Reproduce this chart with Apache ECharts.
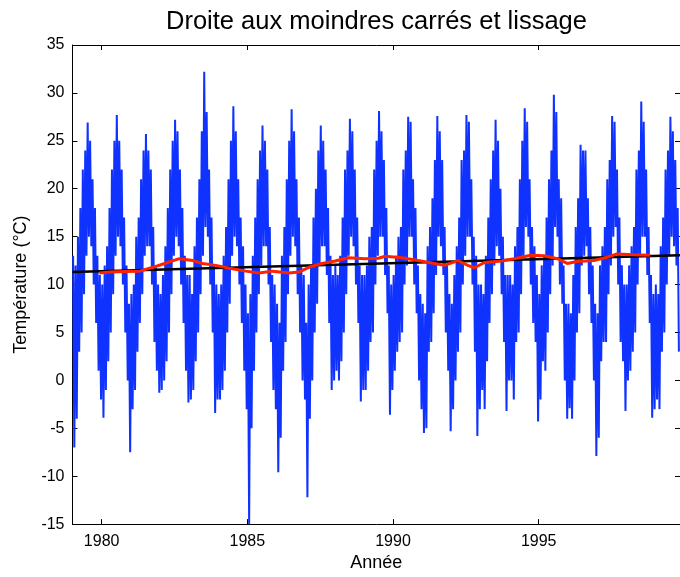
<!DOCTYPE html>
<html>
<head>
<meta charset="utf-8">
<script src="https://cdn.jsdelivr.net/npm/echarts@6/dist/echarts.min.js"></script>
<style>
  html, body { margin: 0; padding: 0; background: #ffffff; }
  #chart { width: 680px; height: 577px; }
</style>
</head>
<body>
<div id="chart"></div>
<script>
// Daily temperature record, summarised as the monthly upper and lower
// excursions (°C), one row per year starting January 1979.
const firstYear = 1979;
const monthlyHigh = [
  [13, 12, 15, 18, 22, 24, 26.9, 25, 21, 18, 13, 11],   // 1979
  [10, 12, 14, 18, 22, 25, 27.7, 25, 22, 17, 12, 8],    // 1980
  [9, 10, 15, 17, 21, 24, 25.7, 24, 22, 16, 12, 10],    // 1981
  [9, 11, 14, 18, 22, 25, 27.2, 26, 22, 18, 13, 11],    // 1982
  [11, 9, 14, 17, 21, 26, 32.2, 28, 22, 17, 12, 10],    // 1983
  [9, 10, 13, 16, 21, 25, 28.6, 26, 21, 17, 14, 10],    // 1984
  [7, 9, 13, 17, 21, 24, 26.6, 25, 22, 16, 11, 10],     // 1985
  [8, 6, 13, 16, 21, 25, 28.3, 26, 21, 17, 12, 11],     // 1986
  [6, 10, 12, 17, 20, 24, 26.6, 25, 22, 18, 13, 11],    // 1987
  [12, 11, 13, 17, 22, 24, 27.3, 26, 22, 17, 12, 11],   // 1988
  [11, 12, 15, 16, 22, 25, 28.1, 26, 23, 18, 12, 10],   // 1989
  [11, 13, 15, 16, 22, 24, 27.5, 27, 21, 18, 12, 9],    // 1990
  [8, 7, 14, 16, 19, 23, 27.6, 26, 23, 16, 12, 9],      // 1991
  [8, 11, 14, 17, 23, 24, 27.7, 27, 21, 15, 13, 10],    // 1992
  [10, 9, 13, 17, 21, 24, 27.2, 25, 20, 15, 11, 11],    // 1993
  [11, 10, 14, 16, 21, 25, 28.4, 27, 21, 16, 14, 11],   // 1994
  [9, 12, 13, 17, 21, 24, 29.8, 28, 21, 19, 12, 8],     // 1995
  [8, 7, 11, 16, 19, 24.6, 24, 24, 19, 16, 12, 8],      // 1996
  [7, 12, 14, 16, 21, 23, 27.6, 27, 22, 17, 12, 10],    // 1997
  [10, 12, 14, 16, 22, 24, 29.1, 27, 22, 16, 11, 9],    // 1998
  [10, 9, 14, 17, 22, 24, 27.5, 26, 23, 18]             // 1999
];
const monthlyLow = [
  [-7, -4, 3, 5, 9, 13, 15, 14, 10, 6, 1, -2],          // 1979
  [-3.9, -1, 2, 5, 9, 13, 15, 14, 10, 5, 0, -7.5],      // 1980
  [-3, -1, 3, 6, 9, 13, 14, 14, 10, 4, 1, -1.3],        // 1981
  [-1, 0, 2, 5, 9, 13, 15, 14, 10, 6, 1, -2.3],         // 1982
  [-2, -1, 2, 5, 9, 13, 16, 15, 10, 5, -3.4, -2],       // 1983
  [-2, -1, 1, 5, 8, 13, 15, 14, 10, 6, 1, -3],          // 1984
  [-15, -5, 1, 5, 9, 12, 14, 14, 10, 4, -1, -3],        // 1985
  [-9.6, -6, 1, 4, 9, 13, 15, 14, 9, 5, 0, -2],         // 1986
  [-12.2, -4, 0, 5, 8, 12, 14, 14, 11, 6, -1, 0],       // 1987
  [1, 0, 2, 5, 9, 13, 15, 14, 10, 6, -2.2, -1],         // 1988
  [-1, 1, 4, 5, 10, 13, 15, 15, 11, 7, -3.6, -1],       // 1989
  [1, 3, 4, 5, 10, 12, 15, 15, 10, 7, 0, -3],           // 1990
  [-5.5, -5, 3, 4, 7, 11, 15, 14, 11, 5, 1, -5.3],      // 1991
  [-3, 0, 3, 5, 10, 13, 15, 15, 10, 3, -5.8, -3],       // 1992
  [-1, -3, 2, 6, 9, 12, 14, 13, 9, 4, -3.2, 0],         // 1993
  [0, -2, 4, 5, 9, 13, 16, 15, 10, 6, 4, -4.3],         // 1994
  [-2, 2, 1, 5, 9, 12, 16, 15, 10, 8, 0, -4],           // 1995
  [-2.9, -4, 0, 5, 7, 12, 13, 14, 9, 6, 0, -7.9],       // 1996
  [-6, 2, 4, 4, 9, 12, 15, 16, 10, 4, 2, -3.2],         // 1997
  [0, 1, 3, 5, 10, 13, 15, 15, 11, 6, -3.9, -3],        // 1998
  [-2, -3, 3, 5, 10, 13, 15, 14, 12, 3]                 // 1999
];

// Least-squares line, evaluated at both ends of the record
const trendYears = [1979, 1999.85];
const trendValues = [11.3, 13.05];

// Smoothed curve (moving average)
const smoothYears = [
  1979.92, 1980.3, 1980.8, 1981.31, 1981.76, 1982.16, 1982.67, 1983.13, 1983.47,
  1983.92, 1984.38, 1984.95, 1985.4, 1985.86, 1986.43, 1986.77, 1987.11, 1987.56,
  1988.02, 1988.47, 1989.04, 1989.5, 1989.73, 1990.3, 1990.86, 1991.43, 1991.77,
  1992.23, 1992.57, 1992.8, 1993.14, 1993.71, 1994.16, 1994.73, 1995.19, 1995.64,
  1995.98, 1996.32, 1996.89, 1997.35, 1997.69, 1998.26, 1998.83
];
const smoothValues = [
  11.2, 11.3, 11.35, 11.4, 11.8, 12.2, 12.7, 12.5, 12.2,
  12.0, 11.7, 11.4, 11.2, 11.4, 11.2, 11.3, 11.8, 12.2,
  12.45, 12.8, 12.7, 12.75, 12.95, 12.8, 12.5, 12.2, 12.0,
  12.5, 12.0, 11.75, 12.3, 12.45, 12.7, 13.05, 13.0, 12.7,
  12.2, 12.4, 12.5, 12.85, 13.2, 13.1, 13.05
];

const yearTicks = [1980, 1985, 1990, 1995];
const tempTicks = { min: -15, max: 35, step: 5 };
const xRange = { min: 1979, max: 1999.85 };

// Interleave each month's upper and lower excursion along the time axis
const tempSeries = [];
monthlyHigh.forEach((row, yi) => {
  row.forEach((hi, m) => {
    const lo = monthlyLow[yi][m];
    tempSeries.push([firstYear + yi + (m + 0.25) / 12, hi]);
    tempSeries.push([firstYear + yi + (m + 0.75) / 12, lo]);
  });
});
const trendSeries = trendYears.map((y, i) => [y, trendValues[i]]);
const smoothSeries = smoothYears.map((y, i) => [y, smoothValues[i]]);

const FONT = "'Liberation Sans', Arial, Helvetica, sans-serif";
const axisLine = { show: true, onZero: false, lineStyle: { color: '#000', width: 1 } };
const tickStyle = { show: true, inside: true, length: 5, lineStyle: { color: '#000', width: 1 } };

const chart = echarts.init(document.getElementById('chart'), null, { renderer: 'canvas' });
chart.setOption({
  animation: false,
  backgroundColor: '#ffffff',
  title: {
    text: 'Droite aux moindres carrés et lissage',
    left: 161,
    top: 4,
    textStyle: { fontFamily: FONT, fontSize: 25.5, fontWeight: 'normal', color: '#000' }
  },
  grid: { left: 72.5, right: -3, top: 45, bottom: 50, containLabel: false },
  xAxis: [
    {
      type: 'value', position: 'bottom', min: xRange.min, max: xRange.max,
      name: 'Année', nameLocation: 'middle', nameGap: 29,
      nameTextStyle: { fontFamily: FONT, fontSize: 18, color: '#000' },
      axisLine: axisLine,
      axisTick: Object.assign({}, tickStyle, { customValues: yearTicks }),
      axisLabel: { customValues: yearTicks, fontFamily: FONT, fontSize: 16, color: '#000', margin: 9,
                   formatter: v => String(v) },
      splitLine: { show: false }
    },
    {
      type: 'value', position: 'top', min: xRange.min, max: xRange.max,
      axisLine: axisLine,
      axisTick: Object.assign({}, tickStyle, { customValues: yearTicks }),
      axisLabel: { show: false },
      splitLine: { show: false }
    }
  ],
  yAxis: [
    {
      type: 'value', position: 'left', min: tempTicks.min, max: tempTicks.max, interval: tempTicks.step,
      name: 'Température (°C)', nameLocation: 'middle', nameGap: 41, nameRotate: 90,
      nameTextStyle: { fontFamily: FONT, fontSize: 18, color: '#000' },
      axisLine: axisLine,
      axisTick: tickStyle,
      axisLabel: { fontFamily: FONT, fontSize: 16, color: '#000', margin: 8 },
      splitLine: { show: false }
    },
    {
      type: 'value', position: 'right', min: tempTicks.min, max: tempTicks.max, interval: tempTicks.step,
      axisLine: axisLine,
      axisTick: tickStyle,
      axisLabel: { show: false },
      splitLine: { show: false }
    }
  ],
  series: [
    {
      name: 'Température', type: 'line', data: tempSeries,
      showSymbol: false, symbol: 'none', clip: true,
      lineStyle: { color: '#0f32ff', width: 2 }
    },
    {
      name: 'Droite', type: 'line', data: trendSeries,
      showSymbol: false, symbol: 'none',
      lineStyle: { color: '#000000', width: 2.5 }
    },
    {
      name: 'Lissage', type: 'line', data: smoothSeries,
      showSymbol: false, symbol: 'none',
      lineStyle: { color: '#ff2200', width: 3 }
    }
  ]
});
</script>
</body>
</html>
